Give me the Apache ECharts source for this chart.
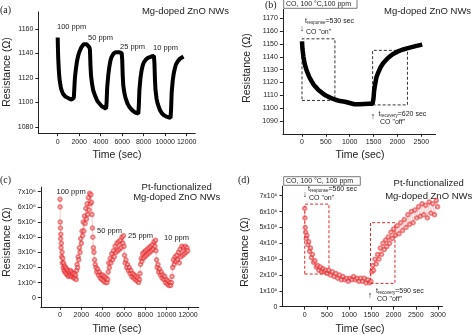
<!DOCTYPE html>
<html>
<head>
<meta charset="utf-8">
<script src="https://cdn.jsdelivr.net/npm/echarts@6/dist/echarts.min.js"></script>
<style>
  html, body { margin: 0; padding: 0; background: #fff; }
  #chart { width: 474px; height: 335px; }
</style>
</head>
<body>
<div id="chart"></div>
<script>
// ---- (a) Mg-doped ZnO NWs, four CO pulses (time in s, resistance in ohm)
const cycleA = [
  [0,1153],[20,1145],[50,1136],[100,1127],[150,1121],[200,1117],[300,1112],[400,1109],[500,1107],[700,1105],[900,1104],[1100,1103],[1300,1102.5],[1450,1103],
  [1500,1104],[1550,1112],[1600,1120],[1700,1128],[1800,1134],[1900,1138],[2000,1141],[2200,1145],[2400,1147.5],[2550,1148.5],[2700,1147.5],[2850,1146],[2950,1145],
  [3000,1143],[3050,1130],[3100,1122],[3200,1115],[3300,1110],[3500,1105],[3700,1101],[3900,1099],[4100,1097],[4300,1096],[4500,1095],
  [4550,1100],[4600,1112],[4700,1122],[4800,1129],[4900,1134],[5000,1137],[5200,1140],[5400,1141],[5700,1141],[5950,1140.5],
  [6000,1135],[6050,1122],[6100,1114],[6200,1108],[6300,1104],[6500,1099],[6700,1096],[6900,1094],[7100,1092.5],[7300,1091.5],[7500,1091],
  [7550,1098],[7600,1110],[7700,1120],[7800,1126],[7900,1130],[8000,1132.5],[8200,1135],[8400,1136.5],[8700,1137.5],[8950,1138],
  [9000,1132],[9050,1118],[9100,1110],[9200,1103],[9300,1099],[9500,1094],[9700,1091],[9900,1089.5],[10100,1088.5],[10300,1088],[10500,1087.5],
  [10550,1095],[10600,1108],[10700,1118],[10800,1124],[10900,1128],[11000,1131],[11200,1134],[11400,1136],[11600,1137],[11700,1137.5]
];
const timeTicksLong = [0, 2000, 4000, 6000, 8000, 10000, 12000];
const resTicksA = [1080, 1100, 1120, 1140, 1160];
const doseLabels = ['100 ppm', '50 ppm', '25 ppm', '10 ppm'];

// ---- (b) single 100 ppm pulse at 100 °C
const pulseB = [
  [0,1152],[10,1146],[30,1140],[60,1134],[100,1129],[150,1124.5],[200,1121],[250,1118],[300,1116],[350,1114],[400,1112.5],[450,1111],[500,1109.8],
  [600,1108],[700,1106.5],[800,1105.5],[900,1105],[1000,1104],[1100,1103],[1200,1103],[1300,1103.3],[1400,1103.5],[1480,1103.5],
  [1490,1104],[1500,1108],[1510,1113],[1530,1118],[1560,1124],[1600,1128],[1650,1132],[1700,1135],[1800,1139],[1900,1142],[2000,1144],
  [2100,1145.5],[2200,1146.5],[2300,1147.5],[2400,1148.5],[2520,1149.5]
];
const timeTicksShort = [0, 500, 1000, 1500, 2000, 2500];
const timeTicksShortD = [0, 500, 1000, 1500, 2000, 2500, 3000];
const resTicksB = [1090, 1100, 1110, 1120, 1130, 1140, 1150, 1160, 1170];
const responseBoxB = [[0, 1106], [690, 1154]];
const recoveryBoxB = [[1480, 1102.5], [2210, 1145]];

// ---- (c) Pt-functionalized Mg-doped ZnO NWs, four pulses (resistance in 10^6 ohm)
const cycleC = [
  [0,6.5],[10,6.0],[20,5.0],[40,4.6],[60,3.9],[80,4.2],[100,3.3],[130,3.6],[160,2.7],[190,3.0],[220,2.3],[260,2.6],[300,2.0],[340,2.3],[380,1.8],[420,2.1],
  [470,1.7],[520,2.0],[570,1.6],[620,1.9],[680,1.5],[740,1.8],[800,1.4],[860,1.7],[920,1.5],[980,1.8],[1040,1.4],[1100,1.7],[1160,1.5],[1220,1.6],
  [1280,1.3],[1340,1.6],[1400,1.3],[1460,1.5],[1520,1.2],
  [1560,1.8],[1600,2.2],[1650,2.0],[1700,2.7],[1760,2.5],[1820,3.3],[1880,3.0],[1940,3.9],[2000,3.6],[2060,4.4],[2120,4.1],[2180,5.0],[2240,4.4],
  [2300,5.4],[2360,4.9],[2420,5.9],[2480,5.2],[2540,6.2],[2600,5.5],[2660,6.6],[2720,5.8],[2780,6.9],[2840,6.2],[2900,6.8],[2960,6.3],
  [3000,5.5],[3040,4.6],[3080,4.0],[3130,3.3],[3180,3.0],[3240,2.5],[3300,2.2],[3370,2.0],[3440,1.7],[3520,1.9],[3600,1.5],[3680,1.7],[3760,1.3],
  [3840,1.5],[3920,1.2],[4000,1.5],[4080,1.1],[4160,1.4],[4240,1.0],[4320,1.3],[4400,1.0],[4470,1.2],
  [4520,1.7],[4570,2.3],[4630,2.0],[4700,2.6],[4770,2.3],[4850,2.9],[4930,2.5],[5010,3.1],[5090,2.7],[5170,3.4],[5250,3.0],[5330,3.6],[5410,3.1],
  [5490,3.7],[5570,3.2],[5650,3.8],[5730,3.3],[5810,4.0],[5890,3.6],[5950,4.1],
  [6000,3.4],[6050,2.8],[6110,2.3],[6180,2.5],[6250,2.0],[6330,2.2],[6410,1.8],[6490,2.0],[6570,1.6],[6650,1.8],[6730,1.4],[6810,1.6],[6890,1.3],
  [6970,1.5],[7050,1.2],[7130,1.4],[7210,1.1],[7290,1.3],[7370,1.0],[7450,1.2],
  [7500,1.6],[7550,2.2],[7610,2.6],[7670,2.4],[7740,2.9],[7810,2.6],[7880,3.0],[7950,2.7],[8020,3.1],[8100,2.8],[8180,3.2],[8260,2.9],[8340,3.3],
  [8420,3.0],[8500,3.4],[8580,3.1],[8660,3.5],[8740,3.2],[8820,3.7],[8900,3.4],[8960,3.8],
  [9000,3.1],[9050,2.5],[9110,2.0],[9180,2.2],[9250,1.7],[9330,1.9],[9410,1.5],[9490,1.7],[9570,1.3],[9650,1.5],[9730,1.2],[9810,1.4],[9890,1.0],
  [9970,1.2],[10050,0.9],[10130,1.1],[10210,0.8],[10290,1.0],[10370,0.8],[10450,1.0],
  [10500,1.4],[10560,2.0],[10630,2.5],[10700,2.2],[10780,2.7],[10860,2.4],[10940,2.8],[11020,2.5],[11100,3.0],[11180,2.3],[11260,3.2],[11340,2.7],
  [11420,3.4],[11500,2.8],[11580,3.3],[11660,2.9],[11740,3.4],[11820,3.0],[11900,3.3],[11960,3.1]
];
const resTicksCD = [0, 1, 2, 3, 4, 5, 6, 7];

// ---- (d) Pt-functionalized, single 100 ppm pulse at 100 °C (10^6 ohm)
const pulseD = [
  [0,6.2],[5,5.6],[10,5.0],[20,4.7],[35,4.3],[50,4.5],[70,3.9],[90,4.1],[110,3.5],[130,3.7],[150,3.1],[175,3.3],[200,2.8],[230,2.9],[260,2.5],[290,2.6],
  [320,2.3],[350,2.5],[380,2.2],[410,2.4],[440,2.2],[470,2.3],[500,2.1],[540,2.3],[580,2.0],[620,2.2],[660,1.9],[700,2.1],[740,1.8],[780,2.0],
  [820,1.7],[860,1.9],[900,1.7],[940,1.8],[980,1.6],[1020,1.8],[1060,1.7],[1100,1.9],[1140,1.7],[1180,1.8],[1220,1.6],[1260,1.8],[1300,1.6],
  [1340,1.8],[1380,1.5],[1420,1.7],[1460,1.5],[1490,1.6],
  [1510,2.2],[1530,2.6],[1550,2.3],[1580,3.0],[1610,2.7],[1640,3.3],[1670,3.0],[1700,3.7],[1730,3.3],[1760,4.0],[1790,3.6],[1820,4.2],[1850,3.8],
  [1880,4.4],[1910,4.0],[1940,4.7],[1970,4.3],[2000,4.9],[2040,4.5],[2080,5.1],[2120,4.6],[2160,5.3],[2200,4.8],[2240,5.5],[2280,5.0],[2320,5.8],
  [2360,5.2],[2400,6.0],[2440,5.3],[2480,6.1],[2520,5.6],[2560,6.3],[2600,5.7],[2640,6.5],[2680,5.8],[2720,6.4],[2760,5.6],[2800,6.6],[2840,5.9],
  [2880,6.5],[2920,5.8],[2960,6.7],[2990,6.3]
];
const responseBoxD = [[0, 2.06], [545, 6.47]];
const recoveryBoxD = [[1480, 1.47], [2030, 5.3]];

const FONT = '"Liberation Sans", Arial, sans-serif';
const RED = '#e8262a';

const plainFmt = v => String(v);
const megFmt = v => (v === 0 ? '0' : v + 'x10\u2076');

function xAxisCfg(idx, min, max, ticks) {
  return {
    type: 'value', gridIndex: idx, min, max,
    axisLine: { onZero: false, lineStyle: { color: '#222', width: 1 } },
    axisTick: { customValues: ticks, length: 3, lineStyle: { color: '#222' } },
    axisLabel: { customValues: ticks, fontSize: 7, fontFamily: FONT, color: '#222', margin: 5, formatter: plainFmt },
    splitLine: { show: false }
  };
}
function yAxisCfg(idx, min, max, ticks, fmt) {
  return {
    type: 'value', gridIndex: idx, min, max,
    axisLine: { show: true, onZero: false, lineStyle: { color: '#222', width: 1 } },
    axisTick: { show: true, customValues: ticks, length: 3, lineStyle: { color: '#222' } },
    axisLabel: { customValues: ticks, fontSize: 7, fontFamily: FONT, color: '#222', margin: 5, formatter: fmt || plainFmt },
    splitLine: { show: false }
  };
}

function txt(x, y, text, opts) {
  opts = opts || {};
  return {
    type: 'text', x, y, rotation: opts.rotation || 0, silent: true,
    style: {
      text, fill: opts.fill || '#222',
      font: (opts.size || 9) + 'px ' + (opts.family || FONT),
      align: opts.align || 'left', verticalAlign: 'middle',
      rich: opts.rich
    }
  };
}
const subRich = {
  sub: { fontSize: 4.5, fontFamily: FONT, fill: '#222', verticalAlign: 'bottom', padding: [3, 0, 0, 0] }
};

const graphics = [
  // (a)
  txt(0, 10, '(a)', { size: 10, family: '"Liberation Serif", serif' }),
  txt(229, 11, 'Mg-doped ZnO NWs', { size: 9.5, align: 'right' }),
  txt(57, 27, doseLabels[0], { size: 7.5 }),
  txt(88, 38, doseLabels[1], { size: 7.5 }),
  txt(120, 46.5, doseLabels[2], { size: 7.5 }),
  txt(153, 48.3, doseLabels[3], { size: 7.5 }),
  txt(117, 155, 'Time (sec)', { size: 10.5, align: 'center' }),
  txt(7, 72, 'Resistance (\u03a9)', { size: 10.5, align: 'center', rotation: Math.PI / 2 }),
  // (b)
  txt(265, 5, '(b)', { size: 10, family: '"Liberation Serif", serif' }),
  { type: 'rect', shape: { x: 283.7, y: -1, width: 73.3, height: 9.3 }, style: { fill: '#fff', stroke: '#555', lineWidth: 0.8 }, silent: true },
  txt(286, 4, 'CO, 100 \u00b0C,100 ppm', { size: 7 }),
  txt(384, 11, 'Mg-doped ZnO NWs', { size: 9.5 }),
  txt(302, 29, '\u2193', { size: 9, align: 'center' }),
  txt(305, 21.5, 't{sub|response}=530 sec', { size: 7, rich: subRich }),
  txt(306, 32.5, 'CO "on"', { size: 7 }),
  txt(373, 117, '\u2191', { size: 9, align: 'center' }),
  txt(378.5, 114, 't{sub|recovery}=620 sec', { size: 7, rich: subRich }),
  txt(380, 122.5, 'CO "off"', { size: 7 }),
  txt(360, 155, 'Time (sec)', { size: 10.5, align: 'center' }),
  txt(247, 68, 'Resistance (\u03a9)', { size: 10.5, align: 'center', rotation: Math.PI / 2 }),
  // (c)
  txt(0, 180, '(c)', { size: 10, family: '"Liberation Serif", serif' }),
  txt(176.7, 187, 'Pt-functionalized', { size: 9.5, align: 'center' }),
  txt(176.7, 197.5, 'Mg-doped ZnO NWs', { size: 9.5, align: 'center' }),
  txt(56.5, 191.7, doseLabels[0], { size: 7.5 }),
  txt(97, 230.7, doseLabels[1], { size: 7.5 }),
  txt(128, 236, doseLabels[2], { size: 7.5 }),
  txt(164, 238.3, doseLabels[3], { size: 7.5 }),
  txt(117, 329, 'Time (sec)', { size: 10.5, align: 'center' }),
  txt(7, 242, 'Resistance (\u03a9)', { size: 10.5, align: 'center', rotation: Math.PI / 2 }),
  // (d)
  txt(238, 180, '(d)', { size: 10, family: '"Liberation Serif", serif' }),
  { type: 'rect', shape: { x: 283.7, y: 176.7, width: 76.6, height: 8.6 }, style: { fill: '#fff', stroke: '#555', lineWidth: 0.8 }, silent: true },
  txt(286, 181, 'CO, 100 \u00b0C, 100 ppm', { size: 7 }),
  txt(428.7, 183, 'Pt-functionalized', { size: 9.5, align: 'center' }),
  txt(428.7, 196, 'Mg-doped ZnO NWs', { size: 9.5, align: 'center' }),
  txt(305, 195, '\u2193', { size: 9, align: 'center' }),
  txt(308, 189.5, 't{sub|response}=560 sec', { size: 7, rich: subRich }),
  txt(309, 198.3, 'CO "on"', { size: 7 }),
  txt(370, 296, '\u2191', { size: 9, align: 'center' }),
  txt(376, 291.5, 't{sub|recovery}=590 sec', { size: 7, rich: subRich }),
  txt(377, 299.5, 'CO "off"', { size: 7 }),
  txt(360, 329, 'Time (sec)', { size: 10.5, align: 'center' }),
  txt(245, 252, 'Resistance (\u03a9)', { size: 10.5, align: 'center', rotation: Math.PI / 2 })
];

// noisy red traces: small open circles joined by a faint line
function redTrace(idx, data, extra) {
  return Object.assign({
    type: 'line', xAxisIndex: idx, yAxisIndex: idx, data,
    symbol: 'emptyCircle', symbolSize: 3.5, showAllSymbol: true,
    itemStyle: { color: RED, borderColor: RED, borderWidth: 0.6, opacity: 0.6 },
    lineStyle: { color: RED, width: 0.7, opacity: 0.35 }
  }, extra || {});
}

const chart = echarts.init(document.getElementById('chart'), null, { renderer: 'canvas' });
chart.setOption({
  backgroundColor: '#fff',
  animation: false,
  grid: [
    { left: 38.35, top: 11.85, width: 156.95, height: 121.3 },
    { left: 282.9, top: 9.3, width: 152.7, height: 124.5 },
    { left: 40.8, top: 187.2, width: 157.9, height: 119.6 },
    { left: 282.5, top: 186.2, width: 160, height: 120.5 }
  ],
  xAxis: [
    xAxisCfg(0, -1800, 12800, timeTicksLong),
    xAxisCfg(1, -400, 2800, timeTicksShort),
    xAxisCfg(2, -1800, 13000, timeTicksLong),
    xAxisCfg(3, -500, 3100, timeTicksShortD)
  ],
  yAxis: [
    yAxisCfg(0, 1075, 1174, resTicksA),
    yAxisCfg(1, 1080, 1177, resTicksB),
    yAxisCfg(2, -0.6, 7.3, resTicksCD, megFmt),
    yAxisCfg(3, 0, 7.6, resTicksCD, megFmt)
  ],
  series: [
    { type: 'line', xAxisIndex: 0, yAxisIndex: 0, data: cycleA, showSymbol: false,
      lineStyle: { color: '#000', width: 4 } },
    { type: 'line', xAxisIndex: 1, yAxisIndex: 1, data: pulseB, showSymbol: false,
      lineStyle: { color: '#000', width: 4.5 },
      markArea: { silent: true, itemStyle: { color: 'rgba(0,0,0,0)', borderColor: '#333', borderWidth: 1, borderType: [3, 2] },
        data: [[{ coord: responseBoxB[0] }, { coord: responseBoxB[1] }], [{ coord: recoveryBoxB[0] }, { coord: recoveryBoxB[1] }]] } },
    redTrace(2, cycleC),
    redTrace(3, pulseD, {
      markArea: { silent: true, itemStyle: { color: 'rgba(0,0,0,0)', borderColor: RED, borderWidth: 1, borderType: [3, 2], opacity: 1 },
        data: [[{ coord: responseBoxD[0] }, { coord: responseBoxD[1] }], [{ coord: recoveryBoxD[0] }, { coord: recoveryBoxD[1] }]] }
    })
  ],
  graphic: graphics
});
</script>
</body>
</html>
